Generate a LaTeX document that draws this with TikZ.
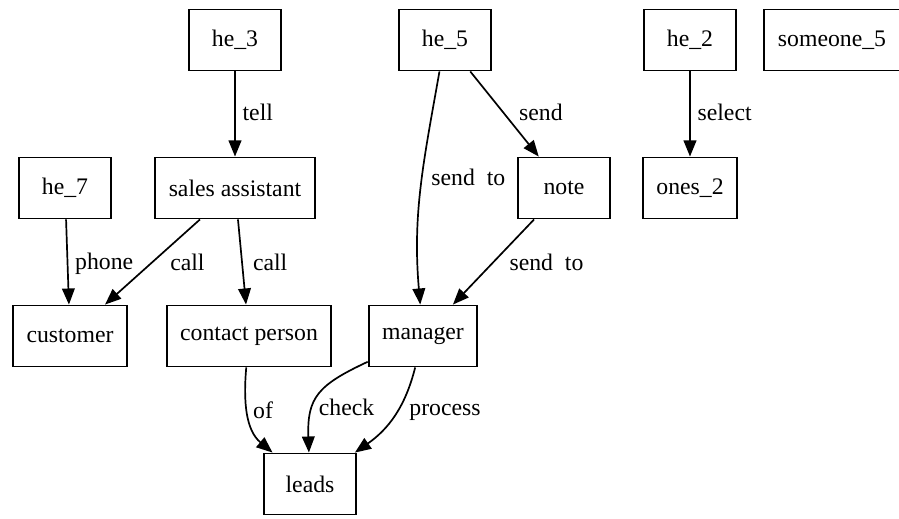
\documentclass[tikz,border=0pt]{standalone}
\usepackage{fontspec}
\setmainfont{Liberation Serif}
\usepackage{tikz}
\usetikzlibrary{arrows.meta}

\begin{document}
\begin{tikzpicture}[x=0.59pt, y=-0.59pt, font=\fontsize{14}{16}\selectfont,
    box/.style={draw, line width=1.1pt, minimum width=54pt, minimum height=36pt, inner xsep=8pt},
    edge/.style={line width=1pt, -{Triangle[length=9.5pt,width=7.5pt]}},
    lbl/.style={inner sep=0pt, anchor=west}]
    \useasboundingbox (0,0) rectangle (899,518);
    % top row
    \node (he3) at (235,40) [box] {he\_3};
    \node (he5) at (445,40) [box] {he\_5};
    \node (he2) at (690,40) [box] {he\_2};
    \node (someone5) at (832,40) [box] {someone\_5};
    % middle row
    \node (he7) at (65,188) [box] {he\_7};
    \node (sales) at (235,188) [box] {sales assistant};
    \node (note) at (564,188) [box] {note};
    \node (ones2) at (690,188) [box] {ones\_2};
    % bottom rows
    \node (customer) at (70,336) [box] {customer};
    \node (contact) at (249,336) [box] {contact person};
    \node (manager) at (423,336) [box] {manager};
    \node (leads) at (310,484) [box] {leads};
    %
    \draw[edge] (he3) -- node[lbl, pos=0.48, xshift=4pt] {tell} (sales);
    \draw[edge] (he2) -- node[lbl, pos=0.48, xshift=4pt] {select} (ones2);
    \draw[edge] (he5) -- node[lbl, pos=0.48, xshift=9pt] {send} (note);
    \draw[edge] (he5) to[out=-100, in=95] node[lbl, pos=0.45, xshift=5pt] {send~~to} (manager);
    \draw[edge] (note) -- node[lbl, pos=0.5, xshift=9pt] {send~~to} (manager);
    \draw[edge] (he7) -- node[lbl, pos=0.52, xshift=4pt] {phone} (customer);
    \draw[edge] (sales) -- node[lbl, pos=0.5, xshift=10pt] {call} (customer);
    \draw[edge] (sales) -- node[lbl, pos=0.5, xshift=6pt] {call} (contact);
    \draw[edge] (contact) to[out=-95, in=140] node[lbl, pos=0.45, xshift=3pt] {of} (leads);
    \draw[edge] (manager) to[out=205, in=92, looseness=1.3] node[lbl, pos=0.64, xshift=3pt] {check} (leads);
    \draw[edge] (manager) to[out=-104, in=35] node[lbl, pos=0.45, xshift=7pt] {process} (leads);
\end{tikzpicture}
\end{document}
